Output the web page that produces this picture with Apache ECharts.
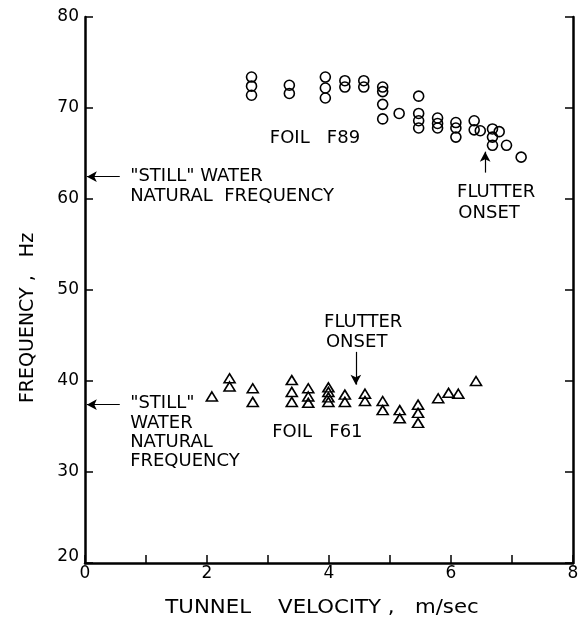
<!DOCTYPE html>
<html>
<head>
<meta charset="utf-8">
<script src="https://cdn.jsdelivr.net/npm/echarts@6/dist/echarts.min.js"></script>
<style>
  html, body { margin: 0; padding: 0; background: #fff; }
  #chart { width: 584px; height: 622px; }
</style>
</head>
<body>
<div id="chart"></div>
<script>
// Foil F89: measured frequencies (Hz) against tunnel velocity (m/sec)
const f89Velocity = [2.73, 2.73, 2.73, 3.35, 3.35, 3.94, 3.94, 3.94, 4.26, 4.26, 4.57, 4.57,
  4.88, 4.88, 4.88, 4.88, 5.15, 5.47, 5.47, 5.47, 5.47, 5.78, 5.78, 5.78,
  6.08, 6.08, 6.08, 6.38, 6.38, 6.48, 6.68, 6.68, 6.68, 6.79, 6.91, 7.15];
const f89Frequency = [73.4, 72.4, 71.4, 72.5, 71.6, 73.4, 72.2, 71.1, 73.0, 72.3, 73.0, 72.3,
  72.3, 71.8, 70.4, 68.8, 69.4, 71.3, 69.4, 68.6, 67.8, 68.9, 68.3, 67.8,
  68.4, 67.8, 66.8, 68.6, 67.6, 67.5, 67.7, 66.8, 65.9, 67.4, 65.9, 64.6];

// Foil F61
const f61Velocity = [2.08, 2.37, 2.37, 2.75, 2.75, 3.39, 3.39, 3.39, 3.66, 3.66, 3.66,
  3.99, 3.99, 3.99, 3.99, 4.26, 4.26, 4.59, 4.59, 4.88, 4.88, 5.16, 5.16,
  5.46, 5.46, 5.46, 5.79, 5.96, 6.12, 6.41];
const f61Frequency = [38.3, 40.3, 39.4, 39.2, 37.7, 40.1, 38.8, 37.7, 39.2, 38.3, 37.6,
  39.3, 38.8, 38.2, 37.7, 38.5, 37.7, 38.6, 37.8, 37.8, 36.8, 36.8, 35.9,
  37.4, 36.5, 35.4, 38.1, 38.7, 38.6, 40.0];

// "Still" water natural frequencies (Hz)
const stillWaterF89 = 62.45;
const stillWaterF61 = 37.4;

// Flutter onset velocities (m/sec)
const flutterOnsetF89 = 6.56;
const flutterOnsetF61 = 4.44;

const xTicks = [0, 2, 4, 6, 8];
const yTicks = [20, 30, 40, 50, 60, 70, 80];

const xTitle = 'TUNNEL    VELOCITY ,   m/sec';
const yTitle = 'FREQUENCY ,   Hz';

const FONT = 'DejaVu Sans';
const INK = '#000';

const pair = (xs, ys) => xs.map((x, i) => [x, ys[i]]);

const chart = echarts.init(document.getElementById('chart'), null, { renderer: 'canvas' });

const axisCommon = {
  axisLine: { show: true, lineStyle: { color: INK, width: 2.5 } },
  axisTick: { show: true, inside: true, length: 8, lineStyle: { color: INK, width: 1.5 } },
  splitLine: { show: false }
};

const arrowLine = (from, to) => [{ coord: from }, { coord: to }];

const arrowStyle = {
  silent: true, animation: false,
  symbol: ['none', 'arrow'], symbolSize: [8, 10],
  label: { show: false },
  emphasis: { disabled: true },
  lineStyle: { color: INK, width: 1.2, type: 'solid', opacity: 1 }
};

chart.setOption({
  animation: false,
  backgroundColor: '#fff',
  textStyle: { fontFamily: FONT, color: INK },
  grid: { left: 85, right: 11, top: 17, bottom: 59, outerBoundsMode: 'none', containLabel: false },
  xAxis: {
    type: 'value', min: 0, max: 8, interval: 1,
    ...axisCommon,
    axisLabel: {
      color: INK, fontFamily: FONT, fontSize: 17, margin: 2,
      formatter: v => (xTicks.includes(v) ? String(v) : '')
    }
  },
  yAxis: [{
    type: 'value', min: 20, max: 80, interval: 10,
    ...axisCommon,
    axisLabel: {
      color: INK, fontFamily: FONT, fontSize: 17, margin: 6,
      // the bottom label sits just above the corner
      formatter: v => (v === yTicks[0] ? '{corner|' + v + '}' : (yTicks.includes(v) ? String(v) : '')),
      rich: { corner: { fontFamily: FONT, fontSize: 17, color: INK, padding: [0, 0, 12, 0] } }
    }
  }, {
    type: 'value', min: 20, max: 80, interval: 10, position: 'right',
    ...axisCommon,
    axisLabel: { show: false }
  }],
  series: [{
    name: 'FOIL F89',
    type: 'scatter',
    data: pair(f89Velocity, f89Frequency),
    symbol: 'circle', symbolSize: 10,
    itemStyle: { color: 'rgba(255,255,255,0)', borderColor: INK, borderWidth: 1.6, opacity: 1 },
    markLine: {
      ...arrowStyle,
      data: [
        arrowLine([0.57, stillWaterF89], [0.03, stillWaterF89]),
        arrowLine([flutterOnsetF89, 62.9], [flutterOnsetF89, 65.2])
      ]
    }
  }, {
    name: 'FOIL F61',
    type: 'scatter',
    data: pair(f61Velocity, f61Frequency),
    symbol: 'triangle', symbolSize: [11, 9],
    itemStyle: { color: 'rgba(255,255,255,0)', borderColor: INK, borderWidth: 1.6, opacity: 1 },
    markLine: {
      ...arrowStyle,
      data: [
        arrowLine([0.57, stillWaterF61], [0.03, stillWaterF61]),
        arrowLine([flutterOnsetF61, 43.2], [flutterOnsetF61, 39.6])
      ]
    }
  }]
});

// Text annotations anchored in data space
const notes = [
  { text: '"STILL" WATER', at: [0.74, 62.5] },
  { text: 'NATURAL  FREQUENCY', at: [0.74, 60.3] },
  { text: 'FOIL   F89', at: [3.03, 66.7] },
  { text: 'FLUTTER', at: [6.1, 60.7] },
  { text: 'ONSET', at: [6.12, 58.4] },
  { text: '"STILL"', at: [0.74, 37.5] },
  { text: 'WATER', at: [0.74, 35.4] },
  { text: 'NATURAL', at: [0.74, 33.3] },
  { text: 'FREQUENCY', at: [0.74, 31.2] },
  { text: 'FOIL   F61', at: [3.07, 34.4] },
  { text: 'FLUTTER', at: [3.92, 46.5] },
  { text: 'ONSET', at: [3.95, 44.2] }
];

const noteGraphics = notes.map(n => {
  const p = chart.convertToPixel({ gridIndex: 0 }, n.at);
  return {
    type: 'text', x: p[0], y: p[1], silent: true,
    style: {
      text: n.text, fill: INK, font: '18px "' + FONT + '"',
      textAlign: 'left', textVerticalAlign: 'middle'
    }
  };
});

// Axis titles in a slightly extended lettering
const titleGraphics = [{
  type: 'text', x: 322, y: 608, scaleX: 1.12, silent: true,
  style: {
    text: xTitle, fill: INK, font: '19px "' + FONT + '"',
    textAlign: 'center', textVerticalAlign: 'middle'
  }
}, {
  type: 'text', x: 28, y: 318, rotation: Math.PI / 2, silent: true,
  style: {
    text: yTitle, fill: INK, font: '19px "' + FONT + '"',
    textAlign: 'center', textVerticalAlign: 'middle'
  }
}];

chart.setOption({ graphic: noteGraphics.concat(titleGraphics) });
</script>
</body>
</html>
